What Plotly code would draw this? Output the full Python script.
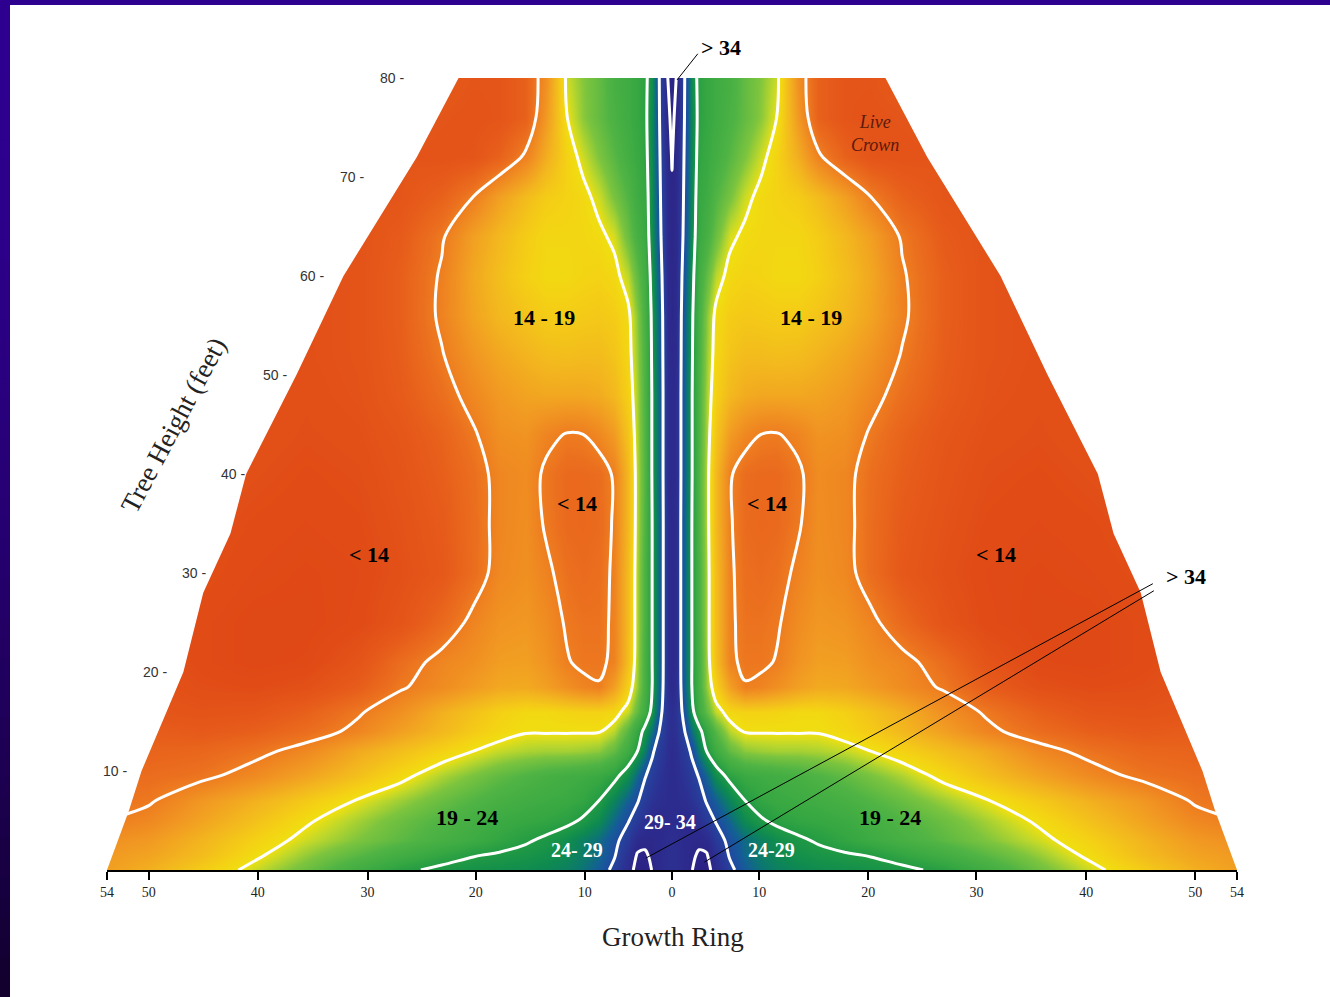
import plotly.graph_objects as go

# ---------------- data ----------------
# horizontal position across the stem (display units, 0 = pith), one half; mirrored for the other side
ring_pos = [0, 0.4, 0.8, 1.3, 1.9, 2.6, 3.3, 4.2, 5.5, 7, 8.5, 10, 12, 14, 16.5, 19, 22, 26, 30, 35, 40, 45, 50, 54]
heights = [0, 1.5, 3, 5, 7, 9.5, 12, 14, 16, 18.5, 21, 25, 30, 35, 40, 44, 48, 52, 56, 60, 64, 68, 72, 76, 80]

# one row per height, one value per ring position
values = [
    [32.0, 32.0, 32.3, 32.8, 33.9, 35.3, 35.2, 32.5, 29.7, 27.6, 26.5, 25.8, 25.4, 25.1, 24.9, 24.7, 24.4, 23.6, 22.4, 20.8, 19.4, 18.0, 16.6, 15.8],
    [32.0, 32.1, 32.4, 32.8, 33.5, 34.4, 34.3, 31.5, 28.8, 27.0, 26.0, 25.3, 24.8, 24.5, 24.2, 23.9, 23.2, 22.3, 21.3, 20.1, 18.7, 17.2, 16.0, 15.5],
    [32.0, 32.2, 32.5, 32.8, 33.2, 33.3, 32.6, 30.3, 28.3, 26.8, 25.8, 25.0, 24.3, 23.8, 23.2, 22.6, 22.0, 21.2, 20.4, 19.4, 18.2, 16.8, 15.5, 15.0],
    [32.5, 32.6, 32.8, 33.0, 32.8, 31.8, 30.3, 28.8, 27.0, 25.2, 24.2, 23.6, 23.2, 23.0, 22.7, 22.2, 21.6, 20.8, 19.9, 18.8, 17.4, 16.0, 14.6, 14.0],
    [32.5, 32.5, 32.3, 32.0, 31.3, 30.2, 28.8, 27.4, 25.6, 24.0, 23.2, 22.8, 22.6, 22.4, 22.0, 21.5, 20.9, 20.0, 19.1, 17.9, 16.6, 15.4, 13.8, 13.4],
    [32.5, 32.3, 31.8, 31.0, 30.0, 28.8, 27.0, 25.0, 23.5, 22.8, 22.5, 22.3, 22.0, 21.6, 21.1, 20.5, 19.8, 18.6, 17.4, 16.0, 14.7, 13.6, 13.2, 13.3],
    [32.5, 32.0, 31.0, 30.0, 28.6, 26.0, 24.0, 22.5, 21.0, 20.2, 20.0, 19.9, 19.9, 19.8, 19.5, 19.0, 18.3, 17.3, 16.3, 14.6, 13.5, 12.8, 12.6, 12.9],
    [32.0, 31.5, 30.2, 28.8, 26.5, 24.5, 23.0, 21.3, 19.6, 18.9, 18.9, 18.9, 18.9, 18.9, 18.5, 17.9, 17.0, 15.8, 14.4, 13.2, 12.3, 11.9, 12.2, 12.6],
    [32.0, 31.3, 29.8, 27.3, 24.5, 22.5, 21.0, 19.5, 18.5, 18.3, 18.3, 18.4, 18.6, 18.6, 18.2, 17.5, 16.6, 15.0, 13.8, 12.4, 11.5, 11.3, 11.6, 12.2],
    [33.0, 32.0, 29.3, 26.6, 24.0, 22.0, 20.0, 18.2, 15.8, 14.1, 14.4, 15.0, 15.8, 16.3, 16.2, 15.6, 14.8, 13.8, 12.2, 11.0, 10.6, 10.8, 11.3, 12.0],
    [33.0, 32.2, 29.2, 26.5, 24.0, 22.0, 19.8, 17.3, 14.3, 13.7, 13.7, 14.1, 15.2, 15.8, 15.7, 15.0, 14.5, 13.2, 11.4, 10.3, 10.1, 10.5, 11.2, 12.0],
    [33.0, 32.2, 29.2, 26.5, 24.0, 21.8, 19.7, 17.2, 14.3, 13.5, 13.5, 13.8, 14.8, 15.4, 15.2, 14.4, 13.0, 11.4, 10.5, 10.1, 10.1, 10.5, 11.2, 12.0],
    [33.0, 32.2, 29.2, 26.5, 24.0, 21.8, 19.7, 17.2, 14.3, 13.3, 13.1, 13.4, 14.3, 15.0, 14.6, 13.2, 11.8, 11.0, 10.4, 10.2, 10.4, 10.8, 11.5, 12.0],
    [33.0, 32.2, 29.2, 26.5, 24.0, 21.6, 19.6, 17.0, 14.2, 13.1, 12.9, 13.0, 13.8, 14.9, 14.5, 13.2, 12.0, 11.2, 10.6, 10.4, 10.6, 11.0, 11.5, 12.0],
    [33.0, 32.3, 29.3, 26.6, 24.1, 21.5, 19.6, 17.0, 14.2, 13.2, 13.0, 13.0, 13.7, 14.8, 14.5, 13.3, 12.3, 11.4, 10.8, 10.6, 10.9, 11.2, 11.6, 12.0],
    [33.0, 32.3, 29.3, 26.6, 24.1, 21.6, 19.7, 17.6, 15.6, 14.6, 14.0, 13.9, 14.4, 15.2, 15.0, 13.8, 12.6, 11.6, 11.0, 10.8, 11.1, 11.5, 12.0, 12.3],
    [33.0, 32.3, 29.3, 26.6, 24.1, 21.7, 19.8, 18.2, 17.0, 16.4, 16.2, 16.2, 16.2, 16.0, 15.5, 14.6, 13.3, 12.0, 11.2, 10.9, 11.1, 11.5, 12.0, 12.3],
    [33.2, 32.4, 29.4, 26.7, 24.2, 21.8, 20.0, 18.5, 17.6, 17.2, 17.2, 17.3, 17.2, 16.8, 16.2, 15.3, 13.9, 12.2, 11.3, 11.0, 11.2, 11.5, 12.0, 12.3],
    [33.4, 32.6, 29.5, 26.8, 24.3, 22.0, 20.2, 18.7, 18.0, 17.8, 17.9, 18.0, 18.0, 17.6, 17.0, 16.0, 14.3, 12.3, 11.3, 11.0, 11.2, 11.5, 12.0, 12.3],
    [33.5, 32.8, 29.8, 27.2, 24.6, 22.3, 21.0, 19.6, 18.6, 18.3, 18.4, 18.6, 18.6, 18.2, 17.3, 16.2, 14.2, 12.3, 11.3, 11.0, 11.2, 11.5, 12.0, 12.3],
    [33.6, 32.9, 30.2, 27.8, 25.0, 22.8, 22.0, 20.8, 19.3, 18.7, 18.5, 18.5, 18.5, 18.0, 17.0, 15.8, 13.8, 12.0, 11.3, 11.0, 11.2, 11.5, 12.0, 12.3],
    [33.8, 33.0, 30.5, 28.0, 25.2, 23.0, 22.5, 21.5, 20.5, 19.4, 18.6, 18.3, 18.0, 17.2, 15.8, 14.0, 12.5, 11.5, 11.3, 11.2, 11.3, 11.6, 12.0, 12.3],
    [34.1, 33.2, 30.8, 28.2, 25.3, 23.3, 22.8, 22.2, 21.3, 20.4, 19.4, 18.3, 16.5, 14.3, 12.5, 11.5, 11.3, 11.5, 11.8, 12.0, 12.0, 12.0, 12.2, 12.3],
    [34.4, 33.6, 31.2, 28.4, 25.3, 23.5, 23.0, 22.5, 21.8, 21.0, 20.2, 19.0, 15.5, 12.5, 11.5, 11.3, 11.5, 11.8, 12.0, 12.0, 12.0, 12.0, 12.2, 12.3],
    [35.0, 34.0, 31.5, 28.5, 25.0, 23.5, 23.0, 22.5, 22.0, 21.0, 20.3, 19.4, 15.0, 12.5, 11.5, 11.5, 12.0, 12.0, 12.0, 12.0, 12.0, 12.0, 12.2, 12.3],
]

# outer edge of the stem (half-width at each height)
outline_heights = [0, 6, 10, 20, 28, 34, 40, 50, 60, 72, 80]
outline_pos = [54, 51.9, 50.7, 46.7, 44.8, 42.2, 40.7, 35.9, 31.4, 24.4, 20.4]

# axis ticks
x_tick_pos = [-54, -50, -39.6, -29.1, -18.75, -8.35, 0, 8.35, 18.75, 29.1, 39.6, 50, 54]
x_tick_text = ["54", "50", "40", "30", "20", "10", "0", "10", "20", "30", "40", "50", "54"]
y_tick_vals = [0, 10, 20, 30, 40, 50, 60, 70, 80]
y_tick_label_x = [-55.5, -51.9, -48.1, -44.3, -40.6, -36.6, -33.1, -29.2, -25.4]

# contour levels
levels = [14, 19, 24, 29, 34]

# ---------------- build ----------------
X = [-u for u in reversed(ring_pos[1:])] + ring_pos
Z = [list(reversed(r[1:])) + r for r in values]

zmin, zmax = 9.0, 37.0
stops = [
    (9.0, "#DA4212"), (10.5, "#E14B16"), (12.0, "#E65A1A"), (13.3, "#EB6E1E"),
    (14.0, "#EE7D20"), (15.5, "#F19922"), (17.0, "#F3B81E"), (18.3, "#F4D214"),
    (19.0, "#EFE010"), (19.6, "#BCD72C"), (20.4, "#7CC43E"), (21.5, "#50B444"),
    (23.0, "#36A742"), (24.2, "#1E9844"), (25.2, "#0E8A50"), (26.3, "#0C7770"),
    (27.4, "#145E96"), (28.6, "#1E4CA0"), (30.0, "#283C9A"), (32.0, "#2C2E90"),
    (34.0, "#2C2688"), (37.0, "#2A1C7E"),
]
colorscale = [[(v - zmin) / (zmax - zmin), c] for v, c in stops]

fig = go.Figure()
fig.add_trace(go.Contour(
    x=X, y=heights, z=Z, zmin=zmin, zmax=zmax, colorscale=colorscale,
    contours=dict(start=levels[0], end=levels[-1], size=levels[1] - levels[0],
                  coloring="heatmap", showlines=True),
    line=dict(color="white", width=3, smoothing=1),
    showscale=False, hoverinfo="skip",
))

# white masks outside the stem outline
for side in (-1, 1):
    mx = [side * u for u in outline_pos] + [side * outline_pos[-1], side * 60, side * 60]
    my = list(outline_heights) + [85, 85, -5]
    fig.add_trace(go.Scatter(x=mx, y=my, fill="toself", fillcolor="white",
                             mode="none", hoverinfo="skip", showlegend=False))

# ---------------- layout geometry ----------------
W, H = 1330, 997
ML, MR, MT, MB = 107, 93, 78, 127
PW, PH = W - ML - MR, H - MT - MB


def px_to_paper_x(px):
    return (px - ML) / PW


def py_to_paper_y(py):
    return (H - MB - py) / PH


annotations = []
serif = "Liberation Serif"

# y tick labels following the stem edge
for v, xp in zip(y_tick_vals, y_tick_label_x):
    annotations.append(dict(x=xp, y=v, xref="x", yref="y", text=f"{v} -", showarrow=False,
                            xanchor="right", yanchor="middle",
                            font=dict(family="Liberation Sans", size=14, color="#333333")))


def lab(text, x, y, size=22, color="black", bold=True, italic=False, yref="y"):
    t = text
    if bold:
        t = f"<b>{t}</b>"
    if italic:
        t = f"<i>{t}</i>"
    annotations.append(dict(x=x, y=y, xref="x", yref=yref, text=t, showarrow=False,
                            xanchor="center", yanchor="middle",
                            font=dict(family=serif, size=size, color=color)))


lab("14 - 19", -12.2, 55.8)
lab("14 - 19", 13.3, 55.8)
lab("&lt; 14", -9.1, 37.0)
lab("&lt; 14", 9.1, 37.0)
lab("&lt; 14", -29.0, 31.9)
lab("&lt; 14", 31.0, 31.9)
lab("19 - 24", -19.6, 5.35)
lab("19 - 24", 20.8, 5.35)
lab("24- 29", -9.1, 2.0, size=20, color="white")
lab("24-29", 9.5, 2.0, size=20, color="white")
lab("29- 34", -0.2, 4.85, size=20, color="white")
lab("&gt; 34", 4.7, py_to_paper_y(47), yref="paper")
lab("&gt; 34", 49.1, 29.6)
lab("Live<br>Crown", 19.4, 74.4, size=18, color="#5A1A0C", bold=False, italic=True)

# leader lines
for (hx, hy, tx, ty) in [(0.48, 79.8, 2.58, 82.6), (-2.5, 1.2, 46.1, 29.0), (3.1, 0.8, 46.2, 28.3)]:
    annotations.append(dict(x=hx, y=hy, xref="x", yref="y", ax=tx, ay=ty, axref="x", ayref="y",
                            text="", showarrow=True, arrowhead=0, arrowwidth=1,
                            arrowcolor="black", standoff=0, startstandoff=0))

# axis titles
annotations.append(dict(x=px_to_paper_x(673), y=py_to_paper_y(937), xref="paper", yref="paper",
                        text="Growth Ring", showarrow=False, xanchor="center", yanchor="middle",
                        font=dict(family=serif, size=27, color="#222222")))
annotations.append(dict(x=-47.6, y=44.9, xref="x", yref="y", text="Tree Height (feet)",
                        showarrow=False, textangle=-62, xanchor="center", yanchor="middle",
                        font=dict(family=serif, size=27, color="#222222")))

# purple slide border (top and left, darkening downward)
shapes = []
shapes.append(dict(type="rect", xref="paper", yref="paper",
                   x0=px_to_paper_x(0), x1=px_to_paper_x(W), y0=py_to_paper_y(5), y1=py_to_paper_y(0),
                   fillcolor="#2E0090", line=dict(width=0), layer="above"))
N = 50
for i in range(N):
    t = (i + 0.5) / N
    f = t ** 1.8
    r = round(46 + (18 - 46) * f)
    b = round(144 + (44 - 144) * f)
    y0p = i * H / N
    y1p = (i + 1) * H / N + 1
    shapes.append(dict(type="rect", xref="paper", yref="paper",
                       x0=px_to_paper_x(0), x1=px_to_paper_x(10),
                       y0=py_to_paper_y(y1p), y1=py_to_paper_y(y0p),
                       fillcolor=f"rgb({r},0,{b})", line=dict(width=0), layer="above"))

fig.update_layout(
    width=W, height=H,
    margin=dict(l=ML, r=MR, t=MT, b=MB),
    paper_bgcolor="white", plot_bgcolor="white",
    showlegend=False, hovermode=False,
    xaxis=dict(range=[-54, 54], tickvals=x_tick_pos, ticktext=x_tick_text,
               showline=True, linecolor="black", linewidth=1.5,
               ticks="outside", ticklen=8, tickcolor="black", tickwidth=1.5,
               tickfont=dict(family=serif, size=14, color="#222222"),
               showgrid=False, zeroline=False, fixedrange=True),
    yaxis=dict(range=[0, 80], visible=False, fixedrange=True),
    annotations=annotations,
    shapes=shapes,
)

fig.write_html("out.html", config={"displayModeBar": False},
               post_script="document.body.style.margin='0';document.body.style.overflow='hidden';")
